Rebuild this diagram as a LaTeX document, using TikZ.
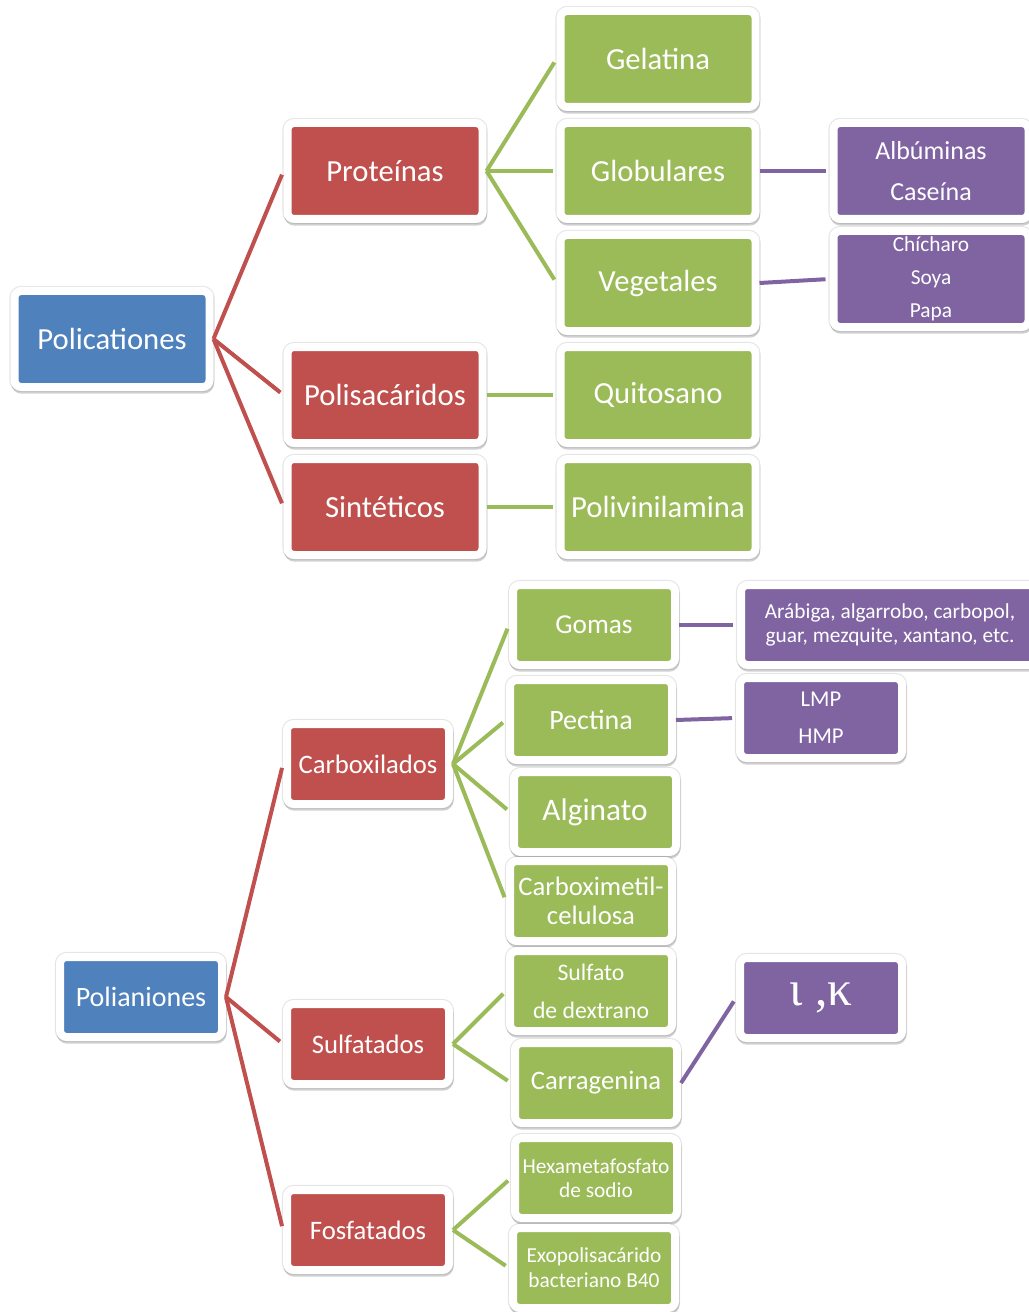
\documentclass[tikz,border=0pt]{standalone}
\usepackage{fontspec}
\setmainfont{Carlito}
\newfontfamily\greekserif{Liberation Serif}
\usetikzlibrary{shadows}

\definecolor{boxblue}{RGB}{79,129,189}
\definecolor{boxred}{RGB}{192,80,77}
\definecolor{boxgreen}{RGB}{155,187,89}
\definecolor{boxpurple}{RGB}{128,100,162}

\tikzset{
  box/.style={rectangle, rounded corners=5pt, draw=white, line width=6pt, text=white,
    align=center, inner sep=0pt,
    drop shadow={shadow xshift=0pt, shadow yshift=0pt, opacity=0.10,
      fill=black, draw=black, line width=7.6pt},
    drop shadow={shadow xshift=0.5pt, shadow yshift=-2pt, opacity=0.18,
      fill=black, draw=black, line width=6pt}},
  bigbox/.style={box, minimum width=146.25pt, minimum height=72pt,
    font=\fontsize{23}{28}\selectfont},
  smallbox/.style={box, minimum width=121.5pt, minimum height=60pt,
    font=\fontsize{20}{24}\selectfont},
  link/.style={line width=3pt, shorten >=3pt},
}

\begin{document}
\begin{tikzpicture}[x=0.75pt,y=0.75pt,yscale=-1,xscale=1]
\useasboundingbox (0,0) rectangle (1028,1312);

% Policationes
\node[bigbox, fill=boxblue] (poc) at (112,339) {Policationes};
\node[bigbox, fill=boxred] (prot) at (385,171) {Proteínas};
\node[bigbox, fill=boxred] (polis) at (385,395) {Polisacáridos};
\node[bigbox, fill=boxred] (sint) at (385,507) {Sintéticos};
\node[bigbox, fill=boxgreen] (gel) at (658,59) {Gelatina};
\node[bigbox, fill=boxgreen] (glob) at (658,171) {Globulares};
\node[bigbox, fill=boxgreen] (veg) at (658,283) {Vegetales};
\node[bigbox, fill=boxgreen] (quit) at (658,395) {Quitosano};
\node[bigbox, fill=boxgreen] (pvam) at (658,507) {Polivinilamina};
\node[bigbox, fill=boxpurple, font=\fontsize{19.5}{31}\selectfont] (albu) at (931,171) {Albúminas\\Caseína};
\node[bigbox, fill=boxpurple, font=\fontsize{16}{24.75}\selectfont] (chic) at (931,279) {Chícharo\\Soya\\Papa};

% Polianiones
\node[smallbox, fill=boxblue, font=\fontsize{21}{24}\selectfont] (poa) at (141,997) {Polianiones};
\node[smallbox, fill=boxred] (carb) at (368,764) {Carboxilados};
\node[smallbox, fill=boxred] (sulf) at (368,1044) {Sulfatados};
\node[smallbox, fill=boxred] (fosf) at (368,1230) {Fosfatados};
\node[smallbox, fill=boxgreen, font=\fontsize{20.5}{24}\selectfont] (gom) at (594,625) {Gomas};
\node[smallbox, fill=boxgreen, font=\fontsize{21}{24}\selectfont] (pec) at (591,720) {Pectina};
\node[smallbox, fill=boxgreen, font=\fontsize{23.5}{28}\selectfont] (alg) at (595,812) {Alginato};
\node[smallbox, fill=boxgreen, font=\fontsize{20}{22}\selectfont] (cmc) at (591,901) {Carboximetil-\\celulosa};
\node[smallbox, fill=boxgreen, font=\fontsize{17.8}{28.5}\selectfont] (sdx) at (591,991) {Sulfato\\de dextrano};
\node[smallbox, fill=boxgreen] (carr) at (596,1083) {Carragenina};
\node[smallbox, fill=boxgreen, font=\fontsize{16}{18}\selectfont] (hmf) at (596,1178) {Hexametafosfato\\de sodio};
\node[smallbox, fill=boxgreen, font=\fontsize{16}{18.75}\selectfont] (exo) at (594,1268) {Exopolisacárido\\bacteriano B40};
\node[smallbox, fill=boxpurple, minimum width=223.5pt, font=\fontsize{16}{18}\selectfont] (arab) at (890,625) {Arábiga, algarrobo, carbopol,\\guar, mezquite, xantano, etc.};
\node[smallbox, fill=boxpurple, font=\fontsize{17}{27.75}\selectfont] (lmp) at (821,718) {LMP\\HMP};
\node[smallbox, fill=boxpurple, font=\greekserif\fontsize{37}{40}\selectfont] (iok) at (821,998) {ι ,κ};

% connectors
\draw[link, boxred] (poc.east) -- (prot.west);
\draw[link, boxred] (poc.east) -- (polis.west);
\draw[link, boxred] (poc.east) -- (sint.west);
\draw[link, boxgreen] (prot.east) -- (gel.west);
\draw[link, boxgreen] (prot.east) -- (glob.west);
\draw[link, boxgreen] (prot.east) -- (veg.west);
\draw[link, boxgreen] (polis.east) -- (quit.west);
\draw[link, boxgreen] (sint.east) -- (pvam.west);
\draw[link, boxpurple] (glob.east) -- (albu.west);
\draw[link, boxpurple] (veg.east) -- (chic.west);

\draw[link, boxred] (poa.east) -- (carb.west);
\draw[link, boxred] (poa.east) -- (sulf.west);
\draw[link, boxred] (poa.east) -- (fosf.west);
\draw[link, boxgreen] (carb.east) -- (gom.west);
\draw[link, boxgreen] (carb.east) -- (pec.west);
\draw[link, boxgreen] (carb.east) -- (alg.west);
\draw[link, boxgreen] (carb.east) -- (cmc.west);
\draw[link, boxgreen] (sulf.east) -- (sdx.west);
\draw[link, boxgreen] (sulf.east) -- (carr.west);
\draw[link, boxgreen] (fosf.east) -- (hmf.west);
\draw[link, boxgreen] (fosf.east) -- (exo.west);
\draw[link, boxpurple] (gom.east) -- (arab.west);
\draw[link, boxpurple] (pec.east) -- (lmp.west);
\draw[link, boxpurple] (carr.east) -- (iok.west);

\end{tikzpicture}
\end{document}
